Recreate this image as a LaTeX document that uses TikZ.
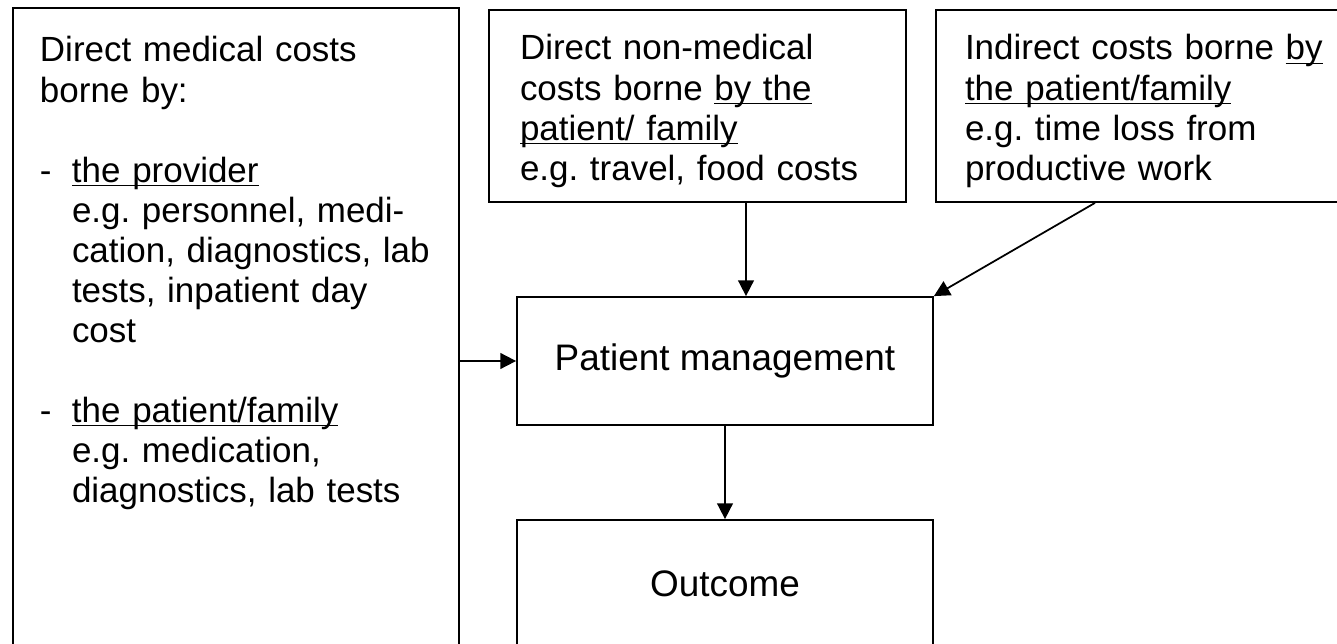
\documentclass[tikz,border=0pt]{standalone}
\usepackage{fontspec}
\setmainfont{Liberation Sans}
\usetikzlibrary{positioning, arrows.meta}
\newcommand{\costul}[1]{\underline{\smash{#1}\vrule width 0pt depth 0.4pt}}
\tikzstyle{costbox} = [rectangle, draw=black, line width=1pt, align=left, inner ysep=0pt, text height=1cm, font=\fontsize{19.9pt}{22.8pt}\selectfont\frenchspacing]
\tikzstyle{stepbox} = [rectangle, draw=black, line width=1pt, minimum width=8.32cm, minimum height=2.56cm, text centered, font=\fontsize{21pt}{25pt}\selectfont]
\tikzstyle{arrow} = [line width=1pt,->,>={Triangle[length=9pt,width=9pt]}]

\begin{document}
\begin{tikzpicture}[node distance=5.1cm]
        \useasboundingbox (0,0) rectangle (26.74,-12.88);
        \clip (0,0) rectangle (26.74,-12.88);
        \node (nonmed) [costbox, text width=7.1cm, inner xsep=0.62cm, text depth=2.84cm] at (13.95,-2.12) {Direct non-medical\\ costs borne \costul{by the}\\ \costul{patient/ family}\\ e.g. travel, food costs};
        \node (indirect) [costbox, right of=nonmed, xshift=3.87cm, text width=7.24cm, inner xsep=0.58cm, text depth=2.84cm] {Indirect costs borne \costul{by}\\ \costul{the patient/family}\\ e.g. time loss from\\ productive work};
        \node (pm) [stepbox, below of=nonmed, xshift=0.55cm] {Patient management};
        \node (outcome) [stepbox, below of=pm, yshift=0.64cm] {Outcome};
        \node (direct) [costbox, left of=pm, xshift=-4.68cm, yshift=0.34cm, text width=7.84cm, inner xsep=0.54cm, text height=1.08cm, text depth=12.36cm] {Direct medical costs\\ borne by:\\[0.8cm] \makebox[0.64cm][l]{-}\costul{the provider}\\ \hspace*{0.64cm}e.g. personnel, medi-\\ \hspace*{0.64cm}cation, diagnostics, lab\\ \hspace*{0.64cm}tests, inpatient day\\ \hspace*{0.64cm}cost\\[0.8cm] \makebox[0.64cm][l]{-}\costul{the patient/family}\\ \hspace*{0.64cm}e.g. medication,\\ \hspace*{0.64cm}diagnostics, lab tests};

        \draw [arrow] ([xshift=0.97cm]nonmed.south) -- ([xshift=0.42cm]pm.north);
        \draw [arrow] ([xshift=-1.02cm]indirect.south) -- (pm.north east);
        \draw [arrow] (pm.west -| direct.east) -- (pm.west);
        \draw [arrow] (pm) -- (outcome);
    \end{tikzpicture}
\end{document}
